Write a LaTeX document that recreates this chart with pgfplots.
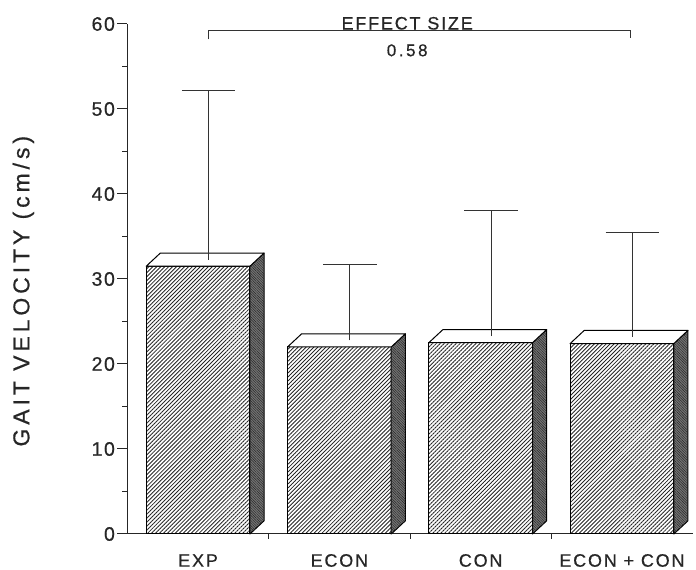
\documentclass[border=0pt]{standalone}
\usepackage{pgfplots}
\pgfplotsset{compat=1.18}
\usepackage{pgfplotstable}
\usetikzlibrary{patterns.meta}
\usepackage{fontspec}
\setmainfont{Liberation Sans}
\newfontfamily\ticksfont{Liberation Sans}[LetterSpace=8,FakeBold=0.6]
\newfontfamily\catfont{Liberation Sans}[LetterSpace=10,FakeBold=0.6]
\newfontfamily\labfont{Liberation Sans}[LetterSpace=17,FakeBold=0.6]
\newfontfamily\numfont{Liberation Sans}[LetterSpace=15,FakeBold=0.6]
\begin{document}
\pgfplotstableread{
x y top
0 31.5 52.2
1 22.0 31.7
2 22.5 38.1
3 22.4 35.5
}\gaitdata
\begin{tikzpicture}
\useasboundingbox (0,0) rectangle (696pt,570pt);
\begin{axis}[
  at={(127.4pt,36pt)}, anchor=south west,
  scale only axis, width=565.2pt, height=510pt,
  xmin=-0.5, xmax=3.5, ymin=0, ymax=60,
  axis lines*=left, clip=false,
  axis line style={line width=1pt, black!85},
  ytick={0,10,...,60}, minor ytick={5,15,...,55},
  xtick={0,1,2,3}, xticklabels={EXP,ECON,CON,ECON + CON},
  minor xtick={0.5,1.5,2.5},
  tick align=outside, major tick length=10pt, minor tick length=5pt,
  major x tick style={draw=none},
  minor x tick style={line width=1pt},
  every tick/.style={black!85, line width=1pt},
  /pgf/number format/assume math mode=true,
  y tick label style={font=\ticksfont\fontsize{19.5}{19.5}\selectfont, text=black!85, xshift=1pt},
  x tick label style={font=\catfont\fontsize{18}{18}\selectfont, text=black!85, anchor=center, yshift=-16.5pt},
  ylabel={GAIT VELOCITY (cm/s)},
  ylabel style={at={(axis description cs:-0.184,0.476)}, anchor=center, text=black!85, font=\labfont\fontsize{23}{23}\selectfont},
]
\addplot[ybar, bar width=0.734, draw=black, line width=1pt,
  pattern={Lines[angle=45,distance=2.8pt,line width=0.85pt]}, pattern color=black!85]
  table[x=x,y=y]{\gaitdata};
\pgfplotsinvokeforeach{0,1,2,3}{
  \pgfplotstablegetelem{#1}{y}\of\gaitdata \let\bv\pgfplotsretval
  \pgfplotstablegetelem{#1}{top}\of\gaitdata \let\ev\pgfplotsretval
  \pgfmathsetmacro\xl{#1-0.367}
  \pgfmathsetmacro\xr{#1+0.367}
  \pgfmathsetmacro\xlb{#1-0.267}
  \pgfmathsetmacro\xrb{#1+0.467}
  \pgfmathsetmacro\vb{\bv+1.55}
  \pgfmathsetmacro\xe{#1+0.075}
  \pgfmathsetmacro\ye{\bv+0.78}
  \pgfmathsetmacro\capL{#1+0.075-0.19}
  \pgfmathsetmacro\capR{#1+0.075+0.19}
  \edef\temp{%
    \noexpand\filldraw[fill=black!55, draw=black, line width=1pt, line join=round]
      (axis cs:\xr,0) -- (axis cs:\xr,\bv) -- (axis cs:\xrb,\vb) -- (axis cs:\xrb,1.55) -- cycle;
    \noexpand\fill[pattern={Lines[angle=-45,distance=1.8pt,line width=0.45pt]}, pattern color=black!85]
      (axis cs:\xr,0) -- (axis cs:\xr,\bv) -- (axis cs:\xrb,\vb) -- (axis cs:\xrb,1.55) -- cycle;
    \noexpand\filldraw[fill=white, draw=black, line width=1pt, line join=round]
      (axis cs:\xl,\bv) -- (axis cs:\xlb,\vb) -- (axis cs:\xrb,\vb) -- (axis cs:\xr,\bv) -- cycle;
    \noexpand\draw[line width=1pt, black!80]
      (axis cs:\xe,\ye) -- (axis cs:\xe,\ev)
      (axis cs:\capL,\ev) -- (axis cs:\capR,\ev);
  }\temp
}
\draw[line width=1pt, black!80] (axis cs:0.075,58.2) -- (axis cs:0.075,59.2) -- (axis cs:3.06,59.2) -- (axis cs:3.06,58.3);
\node[anchor=base, inner sep=0pt, text=black!85, font=\catfont\fontsize{18}{18}\selectfont] at (axis cs:1.48,59.35) {EFFECT SIZE};
\node[anchor=center, inner sep=0pt, text=black!85, font=\numfont\fontsize{17}{17}\selectfont] at (axis cs:1.48,56.9) {0.58};
\end{axis}
\end{tikzpicture}
\end{document}
